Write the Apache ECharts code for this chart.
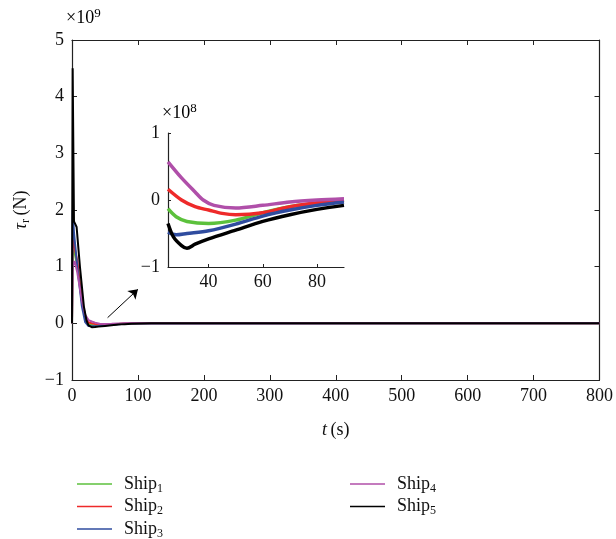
<!DOCTYPE html>
<html>
<head>
<meta charset="utf-8">
<script src="https://cdn.jsdelivr.net/npm/echarts@6/dist/echarts.min.js"></script>
<style>
  html, body { margin: 0; padding: 0; background: #fff; }
  #main { width: 616px; height: 539px; }
</style>
</head>
<body>
<div id="main"></div>
<script>
// values are tau_r in units of 1e8 N, [t (s), value]
var ship1 = [[0,0],[1,12],[3,13],[8,10],[15,4],[20,1],[25,-0.13],[28,-0.25],[32,-0.32],[40,-0.35],[50,-0.3],[60,-0.19],[70,-0.1],[80,-0.05],[90,0],[800,0]];
var ship2 = [[0,0],[1,15],[4,15],[8,11],[15,4],[20,1],[25,0.16],[30,0.0],[35,-0.1],[40,-0.15],[45,-0.2],[50,-0.22],[60,-0.19],[70,-0.1],[80,-0.04],[90,0],[800,0]];
var ship3 = [[0,0],[1,20],[3,16],[8,10],[15,3],[20,0.2],[25,-0.48],[28,-0.52],[32,-0.5],[40,-0.46],[50,-0.36],[60,-0.24],[70,-0.15],[80,-0.08],[90,-0.03],[800,0]];
var ship4 = [[0,0],[1,10],[4,11],[8,9],[15,4],[20,1.5],[25,0.57],[30,0.33],[35,0.12],[38,0.0],[42,-0.08],[50,-0.12],[60,-0.08],[70,-0.03],[80,0],[90,0.02],[800,0]];
var ship5 = [[0,0],[1,45],[3,18],[7,17],[12,10],[18,3],[22,0.5],[25,-0.35],[27,-0.55],[30,-0.68],[32,-0.72],[35,-0.66],[40,-0.58],[50,-0.45],[60,-0.32],[70,-0.22],[80,-0.14],[90,-0.08],[120,0],[800,0]];

var shipNames = ['Ship1', 'Ship2', 'Ship3', 'Ship4', 'Ship5'];
var shipColors = ['#5cc13c', '#ee2a2a', '#2f4c9f', '#b04fa9', '#000000'];
var shipData = [ship1, ship2, ship3, ship4, ship5];

var insetXTicks = [40, 60, 80];
var insetStart = 25, insetEnd = 90;

var FONT = 'Liberation Serif';

function minus(v) { return String(v).replace('-', '\u2212'); }
function toMain(arr) { return arr.map(function (p) { return [p[0], p[1] / 10]; }); }
function toInset(arr) {
    return arr.filter(function (p) { return p[0] >= insetStart && p[0] <= insetEnd; });
}

var subRich = {
    b: { fontFamily: FONT, fontSize: 18, color: '#111' },
    s: { fontFamily: FONT, fontSize: 12, color: '#111', padding: [9, 0, 0, 0] },
    i: { fontFamily: FONT, fontSize: 18, color: '#111', fontStyle: 'italic' }
};
var supRich = {
    b: { fontFamily: FONT, fontSize: 18, color: '#111' },
    p: { fontFamily: FONT, fontSize: 13, color: '#111', padding: [0, 0, 9, 0] }
};

var series = [];
shipData.forEach(function (d, k) {
    series.push({
        name: shipNames[k],
        type: 'line',
        xAxisIndex: 0, yAxisIndex: 0,
        data: toMain(d),
        showSymbol: false,
        color: shipColors[k],
        lineStyle: { width: 2 },
        z: 3 + k
    });
});
shipData.forEach(function (d, k) {
    series.push({
        name: shipNames[k],
        type: 'line',
        xAxisIndex: 2, yAxisIndex: 2,
        data: toInset(d),
        showSymbol: false,
        smooth: 0.3,
        color: shipColors[k],
        lineStyle: { width: 3.5 },
        z: 3 + k
    });
});
// arrow pointing at the zoomed region
series[4].markLine = {
    silent: true,
    symbol: ['none', 'arrow'],
    symbolSize: 9,
    label: { show: false },
    lineStyle: { color: '#000', width: 1, type: 'solid' },
    data: [[{ coord: [54, 0.1] }, { coord: [100, 0.6] }]]
};

var tickStyle = { inside: true, length: 5, lineStyle: { color: '#222' } };
var lineStyle = { onZero: false, lineStyle: { color: '#222', width: 1.2 } };
var labelStyle = { fontFamily: FONT, fontSize: 18, color: '#111' };

var option = {
    animation: false,
    backgroundColor: '#fff',
    grid: [
        { left: 72, top: 40, width: 529, height: 340, show: false },
        { left: 168, top: 133, width: 176, height: 134, show: false }
    ],
    xAxis: [
        { gridIndex: 0, type: 'value', min: 0, max: 800, interval: 100, position: 'bottom',
          axisLine: lineStyle, axisTick: tickStyle, splitLine: { show: false },
          axisLabel: Object.assign({ margin: 7 }, labelStyle),
          name: '{i|t} {b|(s)}', nameLocation: 'middle', nameGap: 41,
          nameTextStyle: { rich: subRich } },
        { gridIndex: 0, type: 'value', min: 0, max: 800, interval: 100, position: 'top',
          axisLine: lineStyle, axisTick: tickStyle, splitLine: { show: false },
          axisLabel: { show: false } },
        { gridIndex: 1, type: 'value', min: insetStart, max: insetEnd, position: 'bottom',
          axisLine: lineStyle, splitLine: { show: false },
          axisTick: { inside: true, length: 3, customValues: insetXTicks, lineStyle: { color: '#222' } },
          axisLabel: Object.assign({ margin: 6, customValues: insetXTicks }, labelStyle) }
    ],
    yAxis: [
        { gridIndex: 0, type: 'value', min: -1, max: 5, interval: 1, position: 'left',
          axisLine: lineStyle, axisTick: tickStyle, splitLine: { show: false },
          axisLabel: Object.assign({ margin: 8, formatter: minus }, labelStyle),
          name: '{i|\u03c4}{s|r} {b|(N)}', nameLocation: 'middle', nameGap: 40, nameRotate: 90,
          nameTextStyle: { rich: subRich } },
        { gridIndex: 0, type: 'value', min: -1, max: 5, interval: 1, position: 'right',
          axisLine: lineStyle, axisTick: tickStyle, splitLine: { show: false },
          axisLabel: { show: false } },
        { gridIndex: 1, type: 'value', min: -1, max: 1, interval: 1, position: 'left',
          axisLine: lineStyle, splitLine: { show: false },
          axisTick: { inside: true, length: 3, lineStyle: { color: '#222' } },
          axisLabel: Object.assign({ margin: 8, formatter: minus }, labelStyle) }
    ],
    legend: [
        { data: shipNames.slice(0, 3), orient: 'vertical', left: 72, top: 470, height: 100,
          itemWidth: 35, itemHeight: 1.5, icon: 'rect', itemGap: 3,
          formatter: function (n) { return '{b|Ship}{s|' + n.slice(4) + '}'; },
          textStyle: { rich: subRich, padding: [0, 0, 0, 7] } },
        { data: shipNames.slice(3), orient: 'vertical', left: 345, top: 470, height: 100,
          itemWidth: 35, itemHeight: 1.5, icon: 'rect', itemGap: 3,
          formatter: function (n) { return '{b|Ship}{s|' + n.slice(4) + '}'; },
          textStyle: { rich: subRich, padding: [0, 0, 0, 7] } }
    ],
    graphic: [
        { type: 'text', left: 66, top: 7,
          style: { text: '{b|\u00d710}{p|9}', rich: supRich } },
        { type: 'text', left: 162, top: 102,
          style: { text: '{b|\u00d710}{p|8}', rich: supRich } }
    ],
    series: series
};

var myChart = echarts.init(document.getElementById('main'));
myChart.setOption(option);
</script>
</body>
</html>
